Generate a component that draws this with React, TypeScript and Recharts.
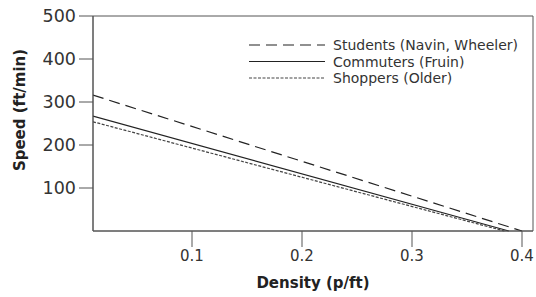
import React from "react";
import { LineChart, Line, XAxis, YAxis, ReferenceArea } from "recharts";

const students = [
  { d: 0.01, s: 316 },
  { d: 0.4, s: 0 },
];
const commuters = [
  { d: 0.01, s: 267 },
  { d: 0.388, s: 0 },
];
const shoppers = [
  { d: 0.01, s: 254 },
  { d: 0.384, s: 0 },
];
const yTicks = [100, 200, 300, 400, 500];
const xTicks = [0.1, 0.2, 0.3, 0.4];
const seriesNames = ["Students (Navin, Wheeler)", "Commuters (Fruin)", "Shoppers (Older)"];

const FONT = "'DejaVu Sans', Verdana, sans-serif";
const dashes = ["11 6", "", "3 1.5"];
const colors = ["#222", "#222", "#444"];

const LegendBox = () => (
  <svg width={285} height={60} style={{ display: "block" }}>
    {seriesNames.map((n, i) => (
      <g key={n}>
        <line x1={0} x2={76} y1={8 + i * 16.5} y2={8 + i * 16.5} stroke={colors[i]} strokeWidth={1.2} strokeDasharray={dashes[i] || undefined} />
        <text x={84} y={8 + i * 16.5} dy="0.36em" fontFamily={FONT} fontSize={14} fill="#333">{n}</text>
      </g>
    ))}
  </svg>
);

export default function App() {
  return (
    <div style={{ position: "absolute", left: 0, top: 0, width: 536, height: 297, background: "#fff" }}>
      <LineChart width={536} height={297} margin={{ top: 16, right: 3, bottom: 0, left: 0 }}>
        <XAxis
          type="number"
          dataKey="d"
          domain={[0.01, 0.41]}
          ticks={xTicks}
          allowDataOverflow
          height={66}
          tickSize={16}
          tickMargin={3}
          stroke="#555"
          tick={{ fill: "#333", fontSize: 15, fontFamily: FONT }}
          tickFormatter={(v: number) => v.toFixed(1)}
          label={{
            content: () => (
              <text x={313} y={283} textAnchor="middle" dy="0.36em" fontFamily={FONT} fontSize={15} fontWeight="bold" fill="#222">Density (p/ft)</text>
            ),
          }}
        />
        <YAxis
          type="number"
          dataKey="s"
          domain={[0, 500]}
          ticks={yTicks}
          width={93}
          tickSize={14}
          tickMargin={3}
          stroke="#555"
          tick={{ fill: "#333", fontSize: 17.5, fontFamily: FONT }}
          label={{
            content: () => (
              <text transform="translate(20,110) rotate(-90)" textAnchor="middle" dy="0.36em" fontFamily={FONT} fontSize={15} fontWeight="bold" fill="#222">Speed (ft/min)</text>
            ),
          }}
        />
        <ReferenceArea x1={0.01} x2={0.41} y1={0} y2={500} fill="none" stroke="#555" strokeWidth={1} ifOverflow="visible" />
        <Line data={students} dataKey="s" name={seriesNames[0]} stroke={colors[0]} strokeWidth={1.2} strokeDasharray={dashes[0]} dot={false} isAnimationActive={false} />
        <Line data={commuters} dataKey="s" name={seriesNames[1]} stroke={colors[1]} strokeWidth={1.2} dot={false} isAnimationActive={false} />
        <Line data={shoppers} dataKey="s" name={seriesNames[2]} stroke={colors[2]} strokeWidth={1.2} strokeDasharray={dashes[2]} dot={false} isAnimationActive={false} />
      </LineChart>
      <div style={{ position: "absolute", left: 249, top: 37 }}>
        <LegendBox />
      </div>
    </div>
  );
}
